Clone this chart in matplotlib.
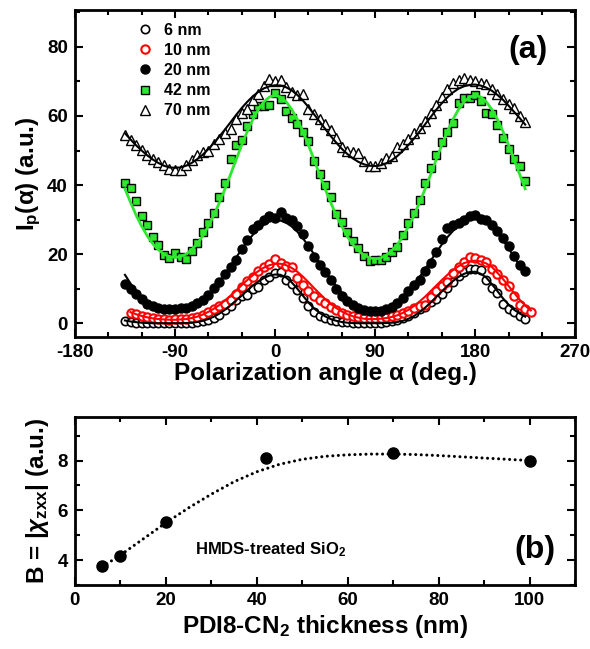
import numpy as np
import matplotlib
matplotlib.use("Agg")
import matplotlib.pyplot as plt
from matplotlib.ticker import MultipleLocator

plt.rcParams['font.family'] = ['Liberation Sans', 'DejaVu Sans']
plt.rcParams['font.weight'] = 'bold'
plt.rcParams['axes.labelweight'] = 'bold'
plt.rcParams['axes.unicode_minus'] = False
plt.rcParams['mathtext.fontset'] = 'custom'
plt.rcParams['mathtext.rm'] = 'Liberation Sans:bold'
plt.rcParams['mathtext.it'] = 'Liberation Sans:bold:italic'
plt.rcParams['mathtext.bf'] = 'Liberation Sans:bold'

# ---- panel (a): polarization angle scans ----
ang = np.arange(-135, 230, 5)        # 6, 20, 42, 70 nm
ang10 = np.arange(-130, 235, 5)      # 10 nm

i6 = [0.7, 0.3, 0.2, 0.1, 0.2, 0.1, 0.0, 0.1, 0.0, 0.1,
      0.0, 0.1, 0.2, 0.3, 0.6, 0.9, 1.6, 2.4, 3.7,
      5.0, 6.8, 7.9, 8.3, 9.8, 10.6, 12.5, 13.4, 14.5,
      14.8, 12.6, 11.4, 9.6, 7.2, 5.0, 3.3, 2.2, 1.4,
      0.9, 0.6, 0.4, 0.3, 0.2, 0.2, 0.1, 0.2, 0.1,
      0.2, 0.3, 0.5, 0.8, 1.4, 2.2, 3.0, 4.0, 4.7,
      6.0, 7.0, 8.6, 10.1, 12.0, 13.6, 14.9, 15.6, 15.7,
      15.3, 12.6, 10.2, 8.8, 5.6, 4.1, 3.2, 2.2, 1.1]
fit6 = [0.8, 0.5, 0.3, 0.15, 0.05, 0.0, 0.0, 0.0, 0.0, 0.0,
        0.0, 0.05, 0.15, 0.35, 0.7, 1.2, 1.9, 2.8, 3.9,
        5.2, 6.6, 8.0, 9.5, 10.9, 12.1, 13.1, 13.8, 14.1,
        14.0, 13.2, 11.8, 10.0, 8.0, 6.0, 4.3, 3.0, 2.0,
        1.2, 0.7, 0.35, 0.15, 0.05, 0.0, 0.0, 0.0, 0.0,
        0.0, 0.05, 0.15, 0.35, 0.7, 1.3, 2.1, 3.2, 4.5,
        6.0, 7.6, 9.2, 10.8, 12.2, 13.4, 14.3, 14.8, 14.9,
        14.3, 13.2, 11.3, 9.3, 7.2, 5.4, 3.9, 2.8, 1.9]

i10 = [3.0, 2.6, 2.1, 1.7, 1.5, 1.2, 1.1, 1.0, 1.1, 1.3,
       1.2, 1.5, 1.9, 2.4, 3.2, 4.1, 5.0, 5.6, 6.6,
       8.6, 10.4, 12.1, 13.4, 15.0, 16.4, 17.0, 18.6, 17.3,
       16.5, 16.2, 13.0, 11.2, 9.4, 8.0, 6.8, 5.8, 4.6,
       3.8, 3.0, 2.5, 2.0, 1.8, 1.6, 1.5, 1.4, 1.5,
       1.7, 2.0, 2.4, 3.0, 3.6, 4.4, 5.0, 5.4, 7.5,
       9.3, 10.7, 12.0, 14.5, 16.2, 17.6, 19.1, 18.9, 18.2,
       17.6, 15.8, 14.3, 12.6, 10.7, 7.8, 5.4, 4.2, 3.3]
fit10 = [3.2, 2.6, 2.1, 1.7, 1.4, 1.2, 1.1, 1.0, 1.0, 1.1,
         1.2, 1.5, 1.9, 2.5, 3.3, 4.2, 5.3, 6.6, 8.0,
         9.5, 11.0, 12.5, 13.9, 15.1, 16.1, 16.8, 17.2, 17.2,
         16.8, 16.0, 14.9, 13.5, 11.9, 10.2, 8.6, 7.0, 5.6,
         4.4, 3.4, 2.6, 2.0, 1.6, 1.3, 1.2, 1.2, 1.3,
         1.5, 1.8, 2.3, 3.0, 3.9, 5.0, 6.3, 7.7, 9.3,
         10.9, 12.5, 14.0, 15.4, 16.5, 17.4, 17.9, 18.1, 17.9,
         17.3, 16.3, 14.6, 12.8, 10.8, 8.8, 6.8, 5.1, 3.7]

i20 = [11.3, 10.0, 8.6, 7.1, 5.7, 4.9, 4.5, 4.2, 4.0, 4.1,
       4.3, 4.5, 5.0, 5.8, 6.8, 8.3, 10.2, 12.0, 14.2,
       16.3, 18.4, 21.5, 24.0, 27.2, 28.4, 29.8, 31.0, 30.5,
       32.2, 30.6, 30.0, 28.0, 25.8, 22.3, 19.2, 16.8, 14.8,
       12.4, 9.8, 8.0, 6.5, 5.3, 4.5, 3.8, 3.5, 3.4,
       3.6, 4.0, 4.6, 5.8, 7.3, 9.4, 11.0, 12.6, 15.0,
       17.5, 20.5, 24.5, 27.6, 28.3, 29.0, 29.9, 31.0, 31.3,
       30.2, 29.8, 28.3, 26.6, 24.7, 22.4, 19.6, 16.8, 15.0]
fit20 = [14.0, 11.5, 9.3, 7.5, 6.1, 5.0, 4.3, 3.8, 3.6, 3.5,
         3.6, 4.0, 4.6, 5.5, 6.8, 8.3, 10.1, 12.1, 14.3,
         16.6, 19.0, 21.4, 23.6, 25.6, 27.3, 28.6, 29.4, 29.8,
         29.7, 29.1, 28.0, 26.5, 24.6, 22.4, 20.0, 17.6, 15.2,
         12.9, 10.8, 8.9, 7.2, 5.8, 4.7, 3.9, 3.5, 3.4,
         3.6, 4.1, 4.9, 6.0, 7.5, 9.2, 11.2, 13.4, 15.7,
         18.1, 20.5, 22.8, 24.9, 26.7, 28.2, 29.3, 30.0, 30.2,
         29.9, 29.1, 27.8, 26.1, 24.0, 21.7, 19.2, 16.7, 14.2]

i42 = [40.5, 39.2, 35.5, 31.0, 28.5, 25.0, 22.5, 19.8, 19.0, 20.2,
       19.3, 18.6, 21.0, 23.2, 26.3, 29.0, 32.0, 36.4, 40.5,
       47.5, 51.6, 53.0, 57.0, 60.5, 62.8, 62.9, 63.3, 66.6,
       65.0, 61.5, 59.4, 57.6, 55.4, 52.8, 47.0, 43.2, 40.0,
       36.5, 31.6, 29.3, 26.3, 23.8, 21.8, 19.6, 18.1, 18.4,
       18.3, 19.2, 20.5, 22.0, 25.6, 28.9, 32.0, 35.8, 40.5,
       44.8, 48.8, 52.6, 55.3, 58.0, 63.8, 65.2, 65.3, 66.2,
       64.2, 61.0, 60.5, 57.3, 53.6, 50.4, 47.4, 45.6, 41.2]
fit42 = [38.9, 35.0, 31.3, 28.1, 25.3, 23.0, 21.3, 20.0, 19.3, 19.0,
         19.3, 20.0, 21.3, 23.0, 25.3, 28.1, 31.3, 35.0, 38.9,
         43.1, 47.4, 51.6, 55.5, 59.0, 61.9, 64.1, 65.5, 65.9,
         65.5, 64.1, 61.9, 59.0, 55.5, 51.6, 47.4, 43.1, 38.9,
         35.0, 31.2, 28.0, 25.1, 22.8, 21.0, 19.7, 18.9, 18.6,
         18.9, 19.7, 21.0, 22.8, 25.1, 28.0, 31.2, 35.0, 38.9,
         43.1, 47.4, 51.6, 55.5, 59.0, 61.9, 64.1, 65.5, 65.9,
         65.5, 64.1, 61.9, 59.0, 55.5, 51.6, 47.4, 43.1, 38.9]

i70 = [54.5, 53.0, 51.5, 50.2, 48.6, 47.6, 46.8, 45.8, 44.6, 44.3,
       44.5, 45.8, 47.2, 48.7, 49.5, 49.8, 51.8, 53.2, 55.0,
       56.3, 59.0, 60.8, 62.0, 64.7, 66.5, 68.8, 70.8, 70.2,
       70.3, 68.4, 66.8, 66.0, 66.3, 62.0, 60.5, 59.2, 57.6,
       55.8, 53.6, 51.0, 49.9, 49.5, 49.2, 47.0, 45.5, 45.4,
       46.4, 47.8, 48.5, 50.9, 52.0, 53.4, 55.0, 56.5, 58.5,
       60.8, 63.2, 65.5, 67.8, 69.5, 70.3, 70.9, 70.4, 70.0,
       69.6, 69.2, 67.8, 66.4, 64.8, 63.6, 62.2, 60.0, 58.3]
fit70 = [55.0, 53.2, 51.5, 50.0, 48.6, 47.4, 46.4, 45.6, 45.1, 45.0,
         45.1, 45.6, 46.4, 47.5, 48.8, 50.4, 52.2, 54.1, 56.1,
         58.2, 60.3, 62.3, 64.1, 65.7, 67.0, 68.0, 68.6, 68.9,
         68.8, 68.3, 67.4, 66.1, 64.5, 62.6, 60.5, 58.4, 56.3,
         54.2, 52.3, 50.5, 49.0, 47.7, 46.7, 46.0, 45.6, 45.5,
         45.7, 46.3, 47.2, 48.4, 49.9, 51.6, 53.5, 55.5, 57.6,
         59.7, 61.8, 63.7, 65.4, 66.8, 67.9, 68.6, 69.0, 69.1,
         68.8, 68.2, 67.3, 66.1, 64.7, 63.0, 61.2, 59.4, 57.5]

# ---- panel (b): B vs thickness ----
thick = [6, 10, 20, 42, 70, 100]
B = [3.75, 4.15, 5.55, 8.1, 8.3, 8.0]
fit_t = [7, 10, 15, 20, 25, 30, 35, 40, 45, 50, 55, 60, 65, 70, 75, 80, 85, 90, 95, 100]
fit_B = [3.85, 4.2, 4.85, 5.5, 6.1, 6.65, 7.15, 7.55, 7.85, 8.05, 8.17, 8.23, 8.26, 8.26,
         8.24, 8.2, 8.15, 8.1, 8.05, 8.0]

green = '#2ee82e'

fig = plt.figure(figsize=(5.9, 6.49), dpi=100)
ax1 = fig.add_axes([0.127, 0.4807, 0.848, 0.504])
ax2 = fig.add_axes([0.127, 0.0986, 0.848, 0.2589])

ms = 6
ax1.plot(ang, i6, 'o', ms=ms, mfc='white', mec='black', mew=1.2, label='6 nm')
ax1.plot(ang10, i10, 'o', ms=ms, mfc='white', mec='red', mew=1.5, label='10 nm')
ax1.plot(ang, i20, 'o', ms=ms + 0.5, mfc='black', mec='black', label='20 nm')
ax1.plot(ang, i42, 's', ms=ms - 0.3, mfc=green, mec='black', mew=1.0, label='42 nm')
ax1.plot(ang, i70, '^', ms=ms + 1.5, mfc='white', mec='black', mew=1.0, label='70 nm')
ax1.plot(ang, fit6, '-', color='black', lw=1.5, zorder=3)
ax1.plot(ang10, fit10, '-', color='red', lw=1.5, zorder=3)
ax1.plot(ang, fit20, '-', color='black', lw=1.5, zorder=3)
ax1.plot(ang, fit42, '-', color=green, lw=2.0, zorder=3)
ax1.plot(ang, fit70, '-', color='black', lw=1.5, zorder=3)

ax1.set_xlim(-180, 270)
ax1.set_ylim(-4, 90.7)
ax1.xaxis.set_major_locator(MultipleLocator(90))
ax1.xaxis.set_minor_locator(MultipleLocator(30))
ax1.yaxis.set_major_locator(MultipleLocator(20))
ax1.yaxis.set_minor_locator(MultipleLocator(10))
ax1.set_xlabel('Polarization angle α (deg.)', fontsize=17.5, labelpad=1)
ax1.set_ylabel(r'I$_\mathregular{p}$(α) (a.u.)', fontsize=17.5, labelpad=3)
ax1.text(0.906, 0.878, '(a)', transform=ax1.transAxes, fontsize=23,
         ha='center', va='center')
ax1.legend(loc='upper left', bbox_to_anchor=(0.105, 0.99), frameon=False,
           fontsize=11.5, handlelength=1.0, handletextpad=0.7,
           labelspacing=0.32, borderaxespad=0.2)

ax2.plot(fit_t, fit_B, color='black', lw=2.2, linestyle=(0, (0.01, 1.8)),
         dash_capstyle='round')
ax2.plot(thick, B, 'o', ms=8, color='black')
ax2.set_xlim(0, 110)
ax2.set_ylim(3, 9.75)
ax2.xaxis.set_major_locator(MultipleLocator(20))
ax2.xaxis.set_minor_locator(MultipleLocator(10))
ax2.yaxis.set_major_locator(MultipleLocator(2))
ax2.yaxis.set_minor_locator(MultipleLocator(1))
ax2.set_xlabel(r'PDI8-CN$_2$ thickness (nm)', fontsize=17.5, labelpad=3)
ax2.set_ylabel(r'B = |$\chi_\mathregular{zxx}$| (a.u.)', fontsize=17.5, labelpad=5)
ax2.text(0.24, 0.208, r'HMDS-treated SiO$_2$', transform=ax2.transAxes,
         fontsize=12, ha='left', va='center')
ax2.text(0.92, 0.208, '(b)', transform=ax2.transAxes, fontsize=23,
         ha='center', va='center')

for ax in (ax1, ax2):
    for s in ax.spines.values():
        s.set_linewidth(2.0)
    ax.tick_params(which='both', direction='in', top=True, right=True,
                   width=1.5, labelsize=13.5)
    ax.tick_params(which='major', length=6, pad=5)
    ax.tick_params(which='minor', length=3.5)

fig.savefig('out.png', dpi=100)
